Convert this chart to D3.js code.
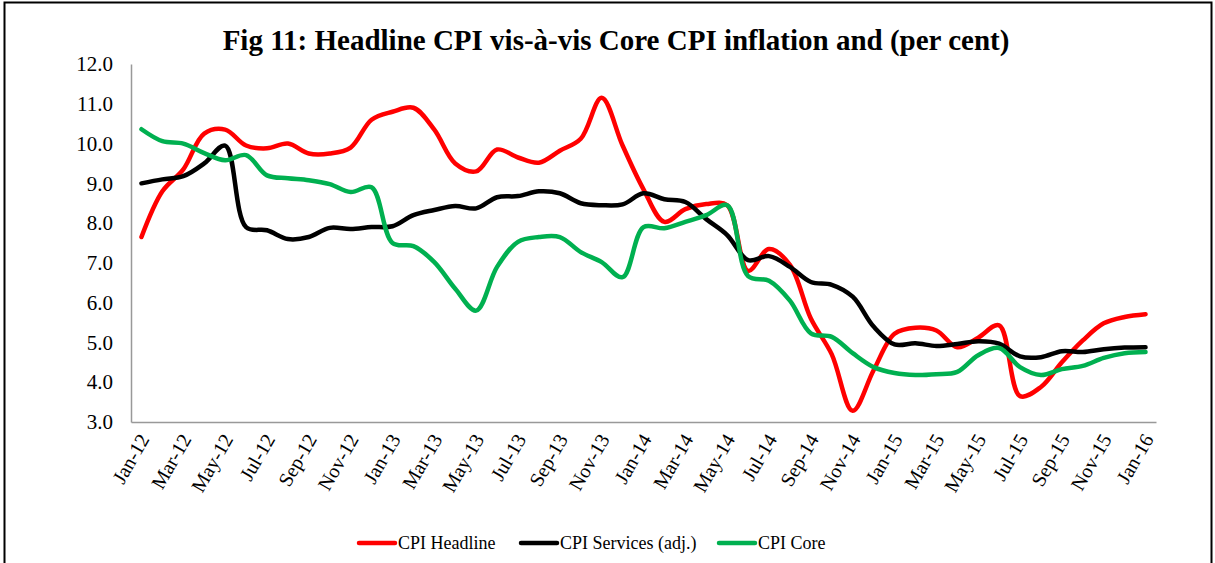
<!DOCTYPE html>
<html>
<head>
<meta charset="utf-8">
<script src="https://cdn.jsdelivr.net/npm/d3@7"></script>
<style>
  body { margin: 0; background: #fff; }
  svg text { font-family: "Liberation Serif", "Times New Roman", serif; }
</style>
</head>
<body>
<svg id="chart" width="1215" height="563"></svg>
<script>
"use strict";

// month labels, Jan-12 .. Jan-16
var months = ["Jan-12","Feb-12","Mar-12","Apr-12","May-12","Jun-12","Jul-12","Aug-12","Sep-12","Oct-12","Nov-12","Dec-12",
  "Jan-13","Feb-13","Mar-13","Apr-13","May-13","Jun-13","Jul-13","Aug-13","Sep-13","Oct-13","Nov-13","Dec-13",
  "Jan-14","Feb-14","Mar-14","Apr-14","May-14","Jun-14","Jul-14","Aug-14","Sep-14","Oct-14","Nov-14","Dec-14",
  "Jan-15","Feb-15","Mar-15","Apr-15","May-15","Jun-15","Jul-15","Aug-15","Sep-15","Oct-15","Nov-15","Dec-15",
  "Jan-16"];

var headline = [7.65,8.8,9.35,10.25,10.35,9.95,9.88,10.0,9.75,9.75,9.9,10.6,
  10.8,10.9,10.35,9.5,9.3,9.85,9.65,9.52,9.82,10.12,11.15,9.95,
  8.85,8.03,8.35,8.48,8.45,6.8,7.35,6.95,5.6,4.7,3.28,4.3,
  5.22,5.37,5.3,4.88,5.12,5.43,3.65,3.88,4.5,5.05,5.48,5.64,5.71];

var services = [9.0,9.1,9.18,9.5,9.95,7.9,7.82,7.6,7.65,7.88,7.85,7.9,
  7.92,8.2,8.33,8.43,8.37,8.65,8.68,8.8,8.75,8.5,8.45,8.47,
  8.75,8.6,8.53,8.1,7.7,7.07,7.17,6.9,6.52,6.45,6.15,5.4,
  4.95,4.98,4.91,4.96,5.03,4.97,4.65,4.63,4.78,4.76,4.83,4.87,4.88];

var core = [10.36,10.06,10.0,9.76,9.58,9.71,9.2,9.13,9.08,8.98,8.78,8.9,
  7.5,7.42,7.02,6.35,5.8,6.9,7.53,7.65,7.65,7.27,7.02,6.64,
  7.9,7.87,8.03,8.2,8.45,6.67,6.55,6.05,5.23,5.14,4.73,4.38,
  4.23,4.18,4.2,4.26,4.68,4.86,4.38,4.18,4.33,4.41,4.61,4.73,4.76];

var yTicks = [3,4,5,6,7,8,9,10,11,12];

var seriesNames = ["CPI Headline", "CPI Services (adj.)", "CPI Core"];
var seriesColors = ["#ff0000", "#000000", "#00b050"];


var svg = d3.select("#chart");

// outer frame
svg.append("rect")
  .attr("x", 4.5).attr("y", 2.5)
  .attr("width", 1207).attr("height", 570)
  .attr("fill", "none")
  .attr("stroke", "#000")
  .attr("stroke-width", 2);

// title
svg.append("text")
  .attr("x", 616).attr("y", 50)
  .attr("text-anchor", "middle")
  .attr("font-size", "29px")
  .attr("font-weight", "bold")
  .text("Fig 11: Headline CPI vis-\u00e0-vis Core CPI inflation and (per cent)");

var plot = { left: 131, right: 1156, top: 64, bottom: 422 };

var x = d3.scaleBand()
  .domain(months)
  .range([plot.left, plot.right]);

var y = d3.scaleLinear()
  .domain([3, 12])
  .range([plot.bottom, plot.top]);

// y axis
var yAxis = svg.append("g")
  .attr("transform", "translate(" + plot.left + ",0)")
  .call(d3.axisLeft(y).tickValues(yTicks).tickSize(0).tickPadding(18).tickFormat(d3.format(".1f")));
yAxis.select(".domain").attr("stroke", "#999").attr("stroke-width", 1.5);
yAxis.selectAll("text").attr("font-size", "21px").attr("fill", "#000")
  .attr("font-family", "Liberation Serif");

// x axis, every second month labelled
var xAxis = svg.append("g")
  .attr("transform", "translate(0," + plot.bottom + ")")
  .call(d3.axisBottom(x)
    .tickValues(months.filter(function(d, i) { return i % 2 == 0; }))
    .tickSize(0)
    .tickSizeOuter(0));
xAxis.select(".domain").attr("stroke", "#999").attr("stroke-width", 1.5);
xAxis.selectAll("text")
  .attr("font-size", "20px")
  .attr("fill", "#000")
  .attr("font-family", "Liberation Serif")
  .attr("text-anchor", "end")
  .attr("dy", "0.35em")
  .attr("transform", "translate(0,12) rotate(-60)");

// lines
var line = d3.line()
  .x(function(d, i) { return x(months[i]) + x.bandwidth() / 2; })
  .y(function(d) { return y(d); })
  .curve(d3.curveCatmullRom.alpha(0.5));

[headline, services, core].forEach(function(vals, k) {
  svg.append("path")
    .datum(vals)
    .attr("fill", "none")
    .attr("stroke", seriesColors[k])
    .attr("stroke-width", 4.5)
    .attr("stroke-linejoin", "round")
    .attr("stroke-linecap", "round")
    .attr("d", line);
});

// legend
var legendX = [358, 520, 718];
var legend = svg.append("g").attr("transform", "translate(0,543)");
seriesNames.forEach(function(name, k) {
  var g = legend.append("g").attr("transform", "translate(" + legendX[k] + ",0)");
  g.append("line")
    .attr("x1", 1).attr("x2", 37)
    .attr("y1", 0).attr("y2", 0)
    .attr("stroke", seriesColors[k])
    .attr("stroke-width", 4.5)
    .attr("stroke-linecap", "round");
  g.append("text")
    .attr("x", 40).attr("y", 0)
    .attr("dy", "0.35em")
    .attr("font-size", "18px")
    .text(name);
});
</script>
</body>
</html>
